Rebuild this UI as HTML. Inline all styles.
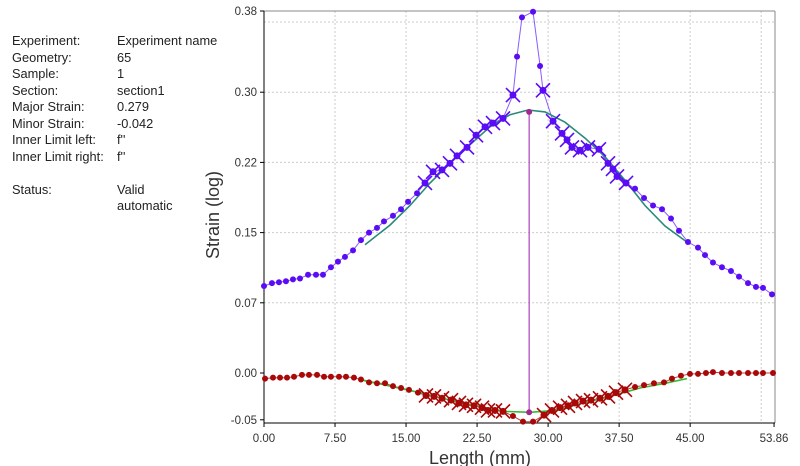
<!DOCTYPE html>
<html><head><meta charset="utf-8"><style>
body{margin:0;width:800px;height:466px;background:#fff;overflow:hidden;font-family:"Liberation Sans",sans-serif;}
#info{position:absolute;left:12px;top:33px;font-size:12.8px;color:#222;}
.row{position:absolute;white-space:nowrap;}
.v{position:absolute;left:105px;}
svg{position:absolute;left:0;top:0;}
</style></head><body>
<div id="info">
<div class="row" style="top:0">Experiment:<span class="v">Experiment name</span></div>
<div class="row" style="top:16.5px">Geometry:<span class="v">65</span></div>
<div class="row" style="top:33px">Sample:<span class="v">1</span></div>
<div class="row" style="top:49.5px">Section:<span class="v">section1</span></div>
<div class="row" style="top:66px">Major Strain:<span class="v">0.279</span></div>
<div class="row" style="top:82.5px">Minor Strain:<span class="v">-0.042</span></div>
<div class="row" style="top:99px">Inner Limit left:<span class="v">f''</span></div>
<div class="row" style="top:115.5px">Inner Limit right:<span class="v">f''</span></div>
<div class="row" style="top:148.5px">Status:<span class="v">Valid</span></div>
<div class="row" style="top:165px;left:105px">automatic</div>
</div>
<svg id="chart" width="800" height="466"></svg>
<script>
const xTicks=[0,7.5,15,22.5,30,37.5,45,53.86];
const xTickLabels=["0.00","7.50","15.00","22.50","30.00","37.50","45.00","53.86"];
const xGrid=[7.5,15,22.5,30,37.5,45,52.5];
const yTicks=[-0.05,0,0.075,0.15,0.225,0.30,0.387];
const yTickLabels=["-0.05","0.00","0.07","0.15","0.22","0.30","0.38"];
const yGrid=[0.075,0.15,0.225,0.30,0.375];
const majX=[0,0.84,1.58,2.32,3.06,3.80,4.65,5.49,6.23,7.07,7.81,8.55,9.40,10.24,11.09,11.93,12.67,13.62,14.47,15.21,16.16,17.00,17.85,18.80,19.64,20.38,21.44,22.39,23.34,24.18,25.24,26.29,26.72,27.24,28.41,29.15,29.46,30.52,31.47,32.00,32.52,33.37,34.21,35.37,36.33,36.85,37.28,38.23,39.18,40.13,41.08,42.03,42.98,43.82,44.77,45.83,46.57,47.41,48.36,49.31,50.16,51.11,51.95,52.69,53.64];
const majY=[0.093,0.096,0.097,0.098,0.100,0.101,0.105,0.105,0.105,0.113,0.119,0.124,0.131,0.142,0.150,0.155,0.162,0.168,0.175,0.183,0.192,0.203,0.215,0.217,0.224,0.232,0.241,0.254,0.263,0.267,0.272,0.297,0.338,0.380,0.386,0.328,0.302,0.269,0.256,0.249,0.241,0.238,0.241,0.239,0.224,0.218,0.210,0.203,0.197,0.187,0.179,0.175,0.165,0.152,0.140,0.134,0.126,0.118,0.113,0.109,0.103,0.096,0.092,0.091,0.084];
const majCross=[0,0,0,0,0,0,0,0,0,0,0,0,0,0,0,0,0,0,0,0,0,1,1,1,1,1,1,1,1,1,1,1,0,0,0,0,1,1,1,1,1,1,1,1,1,1,1,1,0,0,0,0,0,0,0,0,0,0,0,0,0,0,0,0,0];
const minX=[0.11,0.95,1.69,2.43,3.17,4.01,4.75,5.60,6.34,7.07,7.92,8.66,9.50,10.24,11.09,11.93,12.78,13.62,14.47,15.31,16.26,17.11,17.95,18.80,19.75,20.59,21.33,22.18,23.02,23.65,24.39,25.24,26.29,27.35,28.41,29.57,30.41,31.26,32.10,32.84,33.69,34.53,35.48,36.33,37.17,38.12,39.18,40.13,41.18,42.24,43.08,44.03,44.98,45.83,46.67,47.41,48.36,49.31,50.16,51.11,51.95,52.69,53.75];
const minY=[-0.006,-0.005,-0.005,-0.005,-0.004,-0.002,-0.002,-0.002,-0.004,-0.004,-0.004,-0.004,-0.005,-0.007,-0.010,-0.011,-0.011,-0.014,-0.016,-0.018,-0.021,-0.024,-0.025,-0.027,-0.029,-0.032,-0.034,-0.035,-0.037,-0.040,-0.040,-0.041,-0.046,-0.052,-0.052,-0.045,-0.040,-0.037,-0.035,-0.032,-0.030,-0.029,-0.027,-0.025,-0.021,-0.018,-0.015,-0.013,-0.011,-0.010,-0.006,-0.003,-0.001,-0.001,0,0.001,0,0,0,0,0,0,0];
const minCross=[0,0,0,0,0,0,0,0,0,0,0,0,0,0,0,0,0,0,0,0,0,1,1,1,1,1,1,1,1,1,1,1,0,0,0,1,1,1,1,1,1,1,1,1,1,1,0,0,0,0,0,0,0,0,0,0,0,0,0,0,0,0,0];
const majFitX=[10.67,13.31,15.42,17.53,19.64,21.75,23.86,25.98,27.88,29.67,31.78,33.90,36.01,38.12,40.23,42.34,44.77];
const majFitY=[0.137,0.158,0.179,0.203,0.224,0.244,0.263,0.276,0.281,0.279,0.268,0.251,0.231,0.206,0.179,0.157,0.139];
const minFitX=[10.24,13.31,16.47,19.64,22.81,25.45,28.09,30.73,33.37,36.54,39.70,42.34,44.67];
const minFitY=[-0.007,-0.014,-0.021,-0.029,-0.036,-0.041,-0.042,-0.040,-0.033,-0.025,-0.016,-0.011,-0.006];
const sectionX=28.0, sectionMajor=0.279, sectionMinor=-0.042;

const sx=v=>264+v*9.47;
const sy=v=>373-v*936;
const svg=document.getElementById('chart');
const NS='http://www.w3.org/2000/svg';
function mk(tag,attrs,parent){const e=document.createElementNS(NS,tag);for(const k in attrs)e.setAttribute(k,attrs[k]);(parent||svg).appendChild(e);return e;}
const L=264,R=775,T=11,B=423;
xGrid.forEach(v=>{const e=mk('line',{x1:sx(v),x2:sx(v),y1:T,y2:B,stroke:'#ccc','stroke-dasharray':'2,2'});

});
yGrid.forEach(v=>{const e=mk('line',{x1:L,x2:R,y1:sy(v),y2:sy(v),stroke:'#ccc','stroke-dasharray':'2,2'});

});
let b=mk('line',{x1:L,x2:R,y1:T,y2:T,stroke:'#888'});


b=mk('line',{x1:R,x2:R,y1:T,y2:B,stroke:'#888'});


b=mk('line',{x1:L,x2:L,y1:T,y2:B,stroke:'#000'});


b=mk('line',{x1:L,x2:R,y1:B,y2:B,stroke:'#000'});


xTicks.forEach((v,i)=>{const x=Math.min(sx(v),R);
const t=mk('line',{x1:x,x2:x,y1:B,y2:B+4,stroke:'#000'});


const tx=mk('text',{x:x,y:B+19,'text-anchor':'middle','font-size':11.5,fill:'#333'});tx.textContent=xTickLabels[i];

});
yTicks.forEach((v,i)=>{const y=Math.max(sy(v),T);const yy=Math.min(y,B);
const t=mk('line',{x1:L-4,x2:L,y1:yy,y2:yy,stroke:'#000'});


const tx=mk('text',{x:L-7,y:yy+4,'text-anchor':'end','font-size':11.5,fill:'#333'});tx.textContent=yTickLabels[i];

});
let at=mk('text',{x:0,y:0,transform:'translate(219,215) rotate(-90)','text-anchor':'middle','font-size':18,fill:'#333'});at.textContent='Strain  (log)';


at=mk('text',{x:480,y:464,'text-anchor':'middle','font-size':18,fill:'#333'});at.textContent='Length  (mm)';


const pts=(xs,ys)=>xs.map((v,i)=>sx(v).toFixed(1)+','+sy(ys[i]).toFixed(1)).join(' ');
let p=mk('polyline',{points:pts(majX,majY),fill:'none',stroke:'#8a5cff','stroke-width':1});


p=mk('polyline',{points:pts(minX,minY),fill:'none',stroke:'#c04040','stroke-width':1});


p=mk('polyline',{points:pts(majFitX,majFitY),fill:'none',stroke:'#2a8a7a','stroke-width':1.6});


p=mk('polyline',{points:pts(minFitX,minFitY),fill:'none',stroke:'#33bb33','stroke-width':1.6});


function marks(xs,ys,cr,col,name){xs.forEach((v,i)=>{const x=sx(v),y=sy(ys[i]);
if(cr[i]){const g=mk('path',{d:`M${x-7},${y-7}L${x+7},${y+7}M${x-7},${y+7}L${x+7},${y-7}`,stroke:col,'stroke-width':1.6});

}
const c=mk('circle',{cx:x,cy:y,r:cr[i]?3.5:3,fill:col});

});}
marks(majX,majY,majCross,'#5a0cf5','major');
marks(minX,minY,minCross,'#a80808','minor');
const sl=mk('line',{x1:sx(sectionX),x2:sx(sectionX),y1:sy(sectionMajor),y2:sy(sectionMinor),stroke:'#b040c0','stroke-width':1.2});


[sectionMajor,sectionMinor].forEach(v=>{const c=mk('circle',{cx:sx(sectionX),cy:sy(v),r:3,fill:'#a02890'});

});
</script>
</body></html>
